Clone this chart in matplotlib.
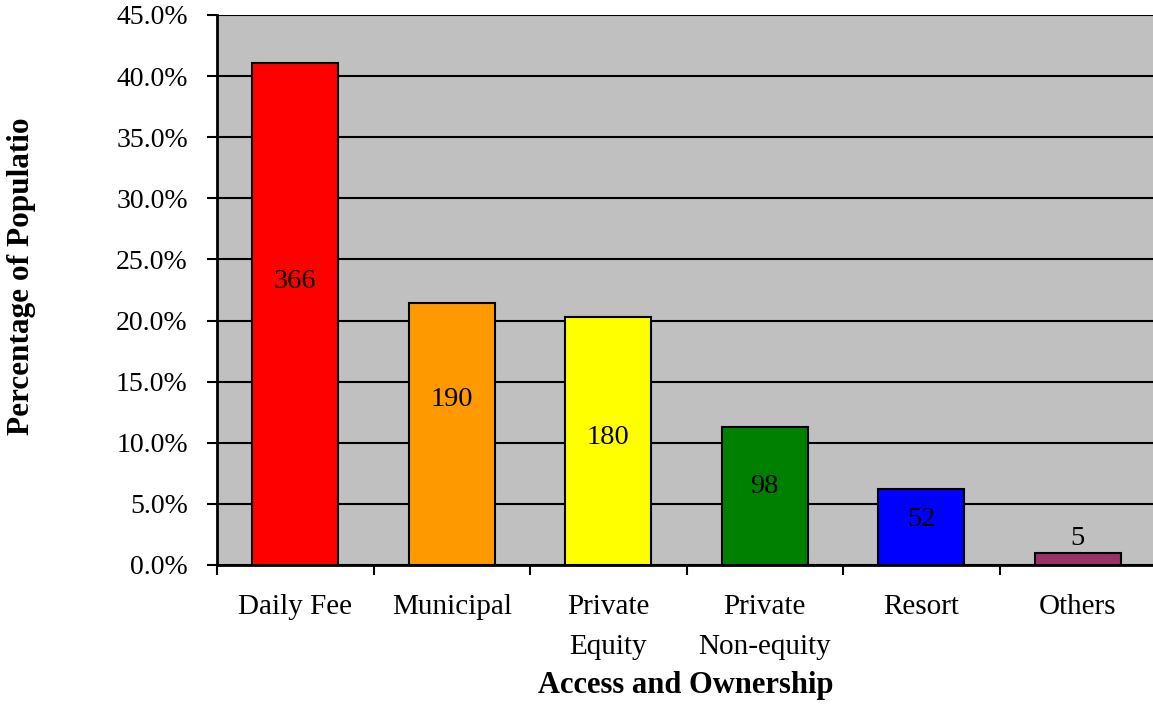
import matplotlib
matplotlib.use("Agg")
import matplotlib.pyplot as plt
from matplotlib.ticker import FuncFormatter, MultipleLocator

categories = ["Daily Fee", "Municipal", "Private\nEquity", "Private\nNon-equity", "Resort", "Others"]
percentages = [41.1, 21.4, 20.3, 11.3, 6.2, 1.0]
counts = [366, 190, 180, 98, 52, 5]
label_pos = [23.2, 13.5, 10.4, 6.4, 3.7, 2.2]
colors = ["#FF0000", "#FF9900", "#FFFF00", "#008000", "#0000FF", "#993366"]

plt.rcParams['font.family'] = ['Liberation Serif', 'DejaVu Serif']

W, H = 1153, 704
fig = plt.figure(figsize=(W / 100, H / 100), dpi=100)
left, right, top, bottom = 217, 1156, 15, 565
ax = fig.add_axes([left / W, 1 - bottom / H, (right - left) / W, (bottom - top) / H])
ax.set_facecolor("#C0C0C0")

x = list(range(len(categories)))
ax.bar(x, percentages, width=0.55, color=colors, edgecolor="black", linewidth=1.5, zorder=3)
for xi, c, ly in zip(x, counts, label_pos):
    ax.text(xi, ly, str(c), ha="center", va="center", fontsize=20.5, zorder=4)

ax.set_xlim(-0.5, len(categories) - 0.5)
ax.set_ylim(0, 45)
ax.yaxis.set_major_locator(MultipleLocator(5))
ax.yaxis.set_major_formatter(FuncFormatter(lambda v, p: f"{v:.1f}%"))
ax.grid(axis="y", color="black", linewidth=1.5, zorder=1)
ax.set_axisbelow(True)

ax.set_xticks(x)
ax.set_xticklabels(categories, fontsize=21, linespacing=1.7)
ax.set_xticks([i - 0.5 for i in range(len(categories) + 1)], minor=True)
ax.tick_params(axis="x", which="major", length=0, pad=21)
ax.tick_params(axis="x", which="minor", length=7, width=1.5, direction="out")
ax.tick_params(axis="y", which="major", length=7, width=1.5, direction="out", labelsize=20, pad=14)

for s in ["top", "right"]:
    ax.spines[s].set_visible(False)
for s in ["left", "bottom"]:
    ax.spines[s].set_linewidth(2)

fig.text(686 / W, 1 - 685 / H, "Access and Ownership", ha="center", va="center",
         fontsize=22, fontweight="bold")
fig.text(22 / W, 1 - 276 / H, "Percentage of Populatio", ha="center", va="center",
         fontsize=22.5, fontweight="bold", rotation=90)

fig.savefig("out.png", dpi=100)
